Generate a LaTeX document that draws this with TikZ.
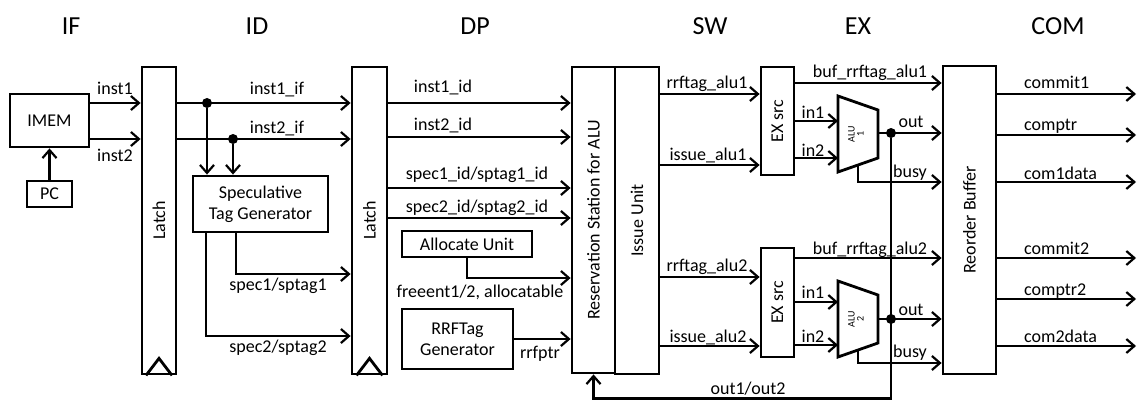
\documentclass[tikz,border=0pt]{standalone}
\usepackage{fontspec}
\setmainfont{Carlito}
\usetikzlibrary{arrows.meta}
\begin{document}
\begin{tikzpicture}[x=1pt,y=-1pt,
  box/.style={draw,line width=2.8pt,inner sep=0pt,align=center,
    font=\fontsize{18}{21}\selectfont},
  wire/.style={line width=2.2pt},
  arr/.style={wire,-{Straight Barb[length=8pt,width=14pt,line width=2.2pt]}},
  lbl/.style={font=\fontsize{18}{20}\selectfont,inner sep=0pt,anchor=base},
  lblw/.style={lbl,anchor=base west},
  stage/.style={font=\fontsize{26}{28}\selectfont,inner sep=0pt,anchor=base},
  dot/.style={circle,fill,inner sep=0pt,minimum size=10pt},
  alubody/.style={line width=2.8pt,line join=miter},
  alutext/.style={inner sep=0pt,font=\fontsize{10}{11}\selectfont},
]
\useasboundingbox (0,0) rectangle (1139,401);

% pipeline stage headings
\node[stage] (sIF)  at (71,35)   {IF};
\node[stage] (sID)  at (257,35)  {ID};
\node[stage] (sDP)  at (475,35)  {DP};
\node[stage] (sSW)  at (710,35)  {SW};
\node[stage] (sEX)  at (858,35)  {EX};
\node[stage] (sCOM) at (1058,35) {COM};

% blocks
\node[box,minimum width=79pt,minimum height=53pt]  (imem)   at (49.5,120.5) {IMEM};
\node[box,minimum width=45pt,minimum height=26pt]  (pc)     at (49.5,194)   {PC};
\node[box,minimum width=34pt,minimum height=307pt] (latch1) at (159,220.5)  {\rotatebox{90}{Latch}};
\node[box,minimum width=35pt,minimum height=307pt] (latch2) at (369.5,220.5){\rotatebox{90}{Latch}};
\node[box,minimum width=135pt,minimum height=56pt] (stg)    at (260.5,204)  {Speculative\\Tag Generator};
\node[box,minimum width=130pt,minimum height=26pt] (alloc)  at (467,244)    {Allocate Unit};
\node[box,minimum width=111pt,minimum height=60pt] (rrftg)  at (457.5,339)  {RRFTag\\Generator};
\node[box,minimum width=43pt,minimum height=306pt] (rs)     at (593.5,220)  {\rotatebox{90}{Reservation Station for ALU}};
\node[box,minimum width=44pt,minimum height=307pt] (issue)  at (637,220.5)  {\rotatebox{90}{Issue Unit}};
\node[box,minimum width=33pt,minimum height=108pt] (exs1)   at (777.5,121)  {\rotatebox{90}{EX src}};
\node[box,minimum width=33pt,minimum height=109pt] (exs2)   at (777.5,302.5){\rotatebox{90}{EX src}};
\node[box,minimum width=53pt,minimum height=308pt] (rob)    at (969.5,220)  {\rotatebox{90}{Reorder Buffer}};

% clock triangles at the foot of the latches
\foreach \l in {latch1,latch2}
  \draw[line width=2.8pt,line join=miter]
    ([xshift=-13pt]\l.south) -- ([yshift=17pt]\l.south) -- ([xshift=13pt]\l.south);

% ALUs
\coordinate (a1nw) at (838,96);  \coordinate (a1ne) at (878,110);
\coordinate (a1se) at (878,158); \coordinate (a1sw) at (838,172);
\draw[alubody] (a1nw) -- (a1ne) -- (a1se) -- (a1sw) -- cycle;
\node[alutext] (alu1) at (857,134) {\rotatebox{90}{\begin{tabular}{@{}c@{}}ALU\\[-2pt]1\end{tabular}}};
\coordinate (a2nw) at (838,281); \coordinate (a2ne) at (878,295);
\coordinate (a2se) at (878,343); \coordinate (a2sw) at (838,357);
\draw[alubody] (a2nw) -- (a2ne) -- (a2se) -- (a2sw) -- cycle;
\node[alutext] (alu2) at (857,319) {\rotatebox{90}{\begin{tabular}{@{}c@{}}ALU\\[-2pt]2\end{tabular}}};

% IF stage
\draw[arr] (pc.north) -- (imem.south);
\draw[arr] (imem.east |- 0,103) -- (latch1.west |- 0,103);
\draw[arr] (imem.east |- 0,139) -- (latch1.west |- 0,139);
\node[lbl] (Linst1) at (115,95)  {inst1};
\node[lbl] (Linst2) at (115,161) {inst2};

% ID stage
\node[dot] (d1) at (207,103) {};
\node[dot] (d2) at (233,139) {};
\draw[arr] (latch1.east |- d1) -- (latch2.west |- d1);
\draw[arr] (latch1.east |- d2) -- (latch2.west |- d2);
\draw[arr] (d1) -- (d1 |- stg.north);
\draw[arr] (d2) -- (d2 |- stg.north);
\draw[arr] (stg.south -| 236,0) |- (latch2.west |- 0,274);
\draw[arr] (stg.south -| 206,0) |- (latch2.west |- 0,336);
\node[lbl] (Linst1if) at (277,95)  {inst1\_if};
\node[lbl] (Linst2if) at (277,133) {inst2\_if};
\node[lbl] (Lspec1)   at (278,290) {spec1/sptag1};
\node[lbl] (Lspec2)   at (278,352) {spec2/sptag2};

% DP stage
\draw[arr] (latch2.east |- 0,103) -- (rs.west |- 0,103);
\draw[arr] (latch2.east |- 0,137) -- (rs.west |- 0,137);
\draw[arr] (latch2.east |- 0,188) -- (rs.west |- 0,188);
\draw[arr] (latch2.east |- 0,218) -- (rs.west |- 0,218);
\draw[arr] (alloc.south) |- (rs.west |- 0,278);
\draw[arr] (rrftg.east) -- (rs.west |- rrftg.east);
\node[lbl] (Linst1id) at (443,93)  {inst1\_id};
\node[lbl] (Linst2id) at (443,130) {inst2\_id};
\node[lbl] (Lspec1id) at (477,179) {spec1\_id/sptag1\_id};
\node[lbl] (Lspec2id) at (477,212) {spec2\_id/sptag2\_id};
\node[lbl] (Lfree)    at (480,297) {freeent1/2, allocatable};
\node[lbl] (Lrrfptr)  at (540,358) {rrfptr};

% SW stage
\draw[arr] (issue.east |- 0,94)  -- (exs1.west |- 0,94);
\draw[arr] (issue.east |- 0,165) -- (exs1.west |- 0,165);
\draw[arr] (issue.east |- 0,277) -- (exs2.west |- 0,277);
\draw[arr] (issue.east |- 0,346) -- (exs2.west |- 0,346);
\node[lbl] (Lrt1) at (707,89)  {rrftag\_alu1};
\node[lbl] (Lis1) at (708,160) {issue\_alu1};
\node[lbl] (Lrt2) at (707,271) {rrftag\_alu2};
\node[lbl] (Lis2) at (708,342) {issue\_alu2};

% EX stage
\draw[arr] (exs1.east |- 0,83)  -- (rob.west |- 0,83);
\draw[arr] (exs2.east |- 0,258) -- (rob.west |- 0,258);
\draw[arr] (exs1.east |- 0,121) -- (a1nw |- 0,121);
\draw[arr] (exs1.east |- 0,158) -- (a1nw |- 0,158);
\draw[arr] (exs2.east |- 0,302) -- (a2nw |- 0,302);
\draw[arr] (exs2.east |- 0,345) -- (a2nw |- 0,345);
\node[dot] (o1) at (891,133) {};
\node[dot] (o2) at (891,319) {};
\draw[arr] (a1ne |- o1) -- (rob.west |- o1);
\draw[arr] (a2ne |- o2) -- (rob.west |- o2);
\coordinate (b1) at (858,165);
\coordinate (b2) at (858,350);
\draw[arr] (b1) |- (rob.west |- 0,182);
\draw[arr] (b2) |- (rob.west |- 0,363);
\draw[arr] (o1) -- (o1 |- 0,398.5) -| (rs.south);
\node[lbl] (Lbuf1) at (870,78)  {buf\_rrftag\_alu1};
\node[lbl] (Lbuf2) at (870,254) {buf\_rrftag\_alu2};
\node[lbl] (Lin11) at (813,118) {in1};
\node[lbl] (Lin21) at (813,156) {in2};
\node[lbl] (Lin12) at (813,298) {in1};
\node[lbl] (Lin22) at (813,342) {in2};
\node[lbl] (Lout1) at (911,128) {out};
\node[lbl] (Lout2) at (911,315) {out};
\node[lbl] (Lbsy1) at (910,177) {busy};
\node[lbl] (Lbsy2) at (910,357) {busy};
\node[lbl] (Lfb)   at (748,394) {out1/out2};

% COM stage
\coordinate (oend) at (1136,0);
\draw[arr] (rob.east |- 0,94)  -- (oend |- 0,94);
\draw[arr] (rob.east |- 0,135) -- (oend |- 0,135);
\draw[arr] (rob.east |- 0,182) -- (oend |- 0,182);
\draw[arr] (rob.east |- 0,258) -- (oend |- 0,258);
\draw[arr] (rob.east |- 0,299) -- (oend |- 0,299);
\draw[arr] (rob.east |- 0,346) -- (oend |- 0,346);
\node[lblw] (Lc1)  at (1024,89)  {commit1};
\node[lblw] (Lcp1) at (1024,131) {comptr};
\node[lblw] (Lcd1) at (1024,179) {com1data};
\node[lblw] (Lc2)  at (1024,254) {commit2};
\node[lblw] (Lcp2) at (1024,295) {comptr2};
\node[lblw] (Lcd2) at (1024,342) {com2data};
\end{tikzpicture}
\end{document}
